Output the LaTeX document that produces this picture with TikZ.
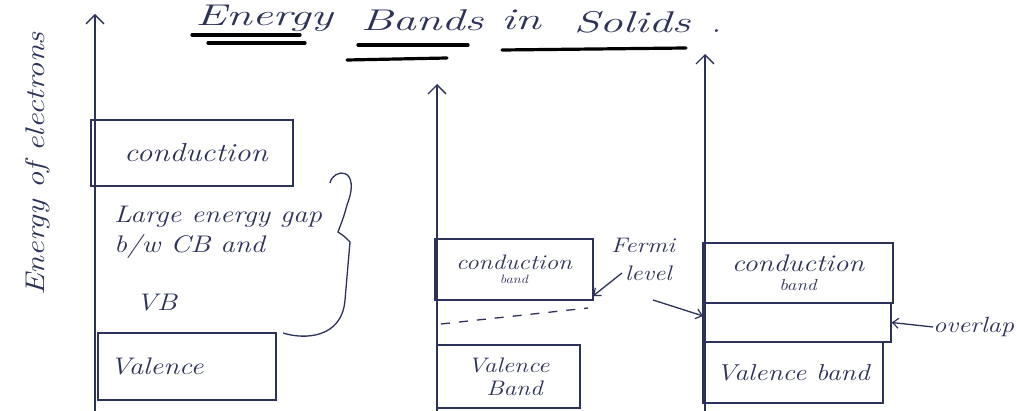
\documentclass[tikz,border=0pt]{standalone}
\usetikzlibrary{arrows.meta}
\definecolor{ink}{RGB}{45,50,90}
\newcommand\hw[1]{\scalebox{1.2}[1]{#1}}
\newcommand\tw[1]{\scalebox{1.55}[1]{#1}}
\newcommand\fs[1]{\fontsize{#1}{#1}\selectfont}
\tikzset{
  x=1pt,y=-1pt,
  ink line/.style={draw=ink,line width=1.3pt},
  axis/.style={ink line,-{Straight Barb[length=9pt,width=18pt,line width=1.3pt]}},
  bandbox/.style={ink line,rectangle,inner sep=0pt,text=ink,font=\itshape,align=center},
  hand/.style={text=ink,font=\itshape,inner sep=0pt},
  titleword/.style={hand,anchor=base,font=\itshape\fs{30}},
  pointer/.style={ink line,-{Straight Barb[length=6pt,width=10pt,line width=1.2pt]}},
  underl/.style={line width=3.2pt,black,line cap=round}
}
\begin{document}
\begin{tikzpicture}
\useasboundingbox[fill=white] (0,0) rectangle (1020,411);
% title
\node[titleword] (t1) at (264,26) {\tw{Energy}};
\node[titleword] (t2) at (422,31) {\tw{Bands}};
\node[titleword] (t3) at (521,30) {\tw{in}};
\node[titleword] (t4) at (632,33) {\tw{Solids}};
\node[titleword] (t5) at (716,33) {.};
\draw[underl] (192,35) -- (300,35);
\draw[underl] (208,43) -- (305,43);
\draw[underl] (358,45) -- (468,45);
\draw[underl] (347,60) -- (447,58);
\draw[underl] (502,50) -- (686,48);
% y label
\node[hand,font=\itshape\fs{27},rotate=90] (ylab) at (38,164) {\hw{Energy of electrons}};
% axes
\coordinate (a1b) at (95,411); \coordinate (a1t) at (95,14);
\coordinate (a2b) at (437,411); \coordinate (a2t) at (437,84);
\coordinate (a3b) at (705,411); \coordinate (a3t) at (705,54);
\draw[axis] (a1b) -- (a1t);
\draw[axis] (a2b) -- (a2t);
\draw[axis] (a3b) -- (a3t);
% insulator
\node[bandbox,minimum width=202pt,minimum height=66pt,font=\itshape\fs{26}] (cb1) at (192,153) {\hspace{8pt}\hw{conduction}};
\node[hand,align=left,anchor=north west,font=\itshape\fontsize{24}{30}\selectfont] (gap) at (114,206) {\hw{Large energy gap}\\\hw{b/w CB and}\\[28pt]\hspace{22pt}\hw{VB}};
\node[bandbox,minimum height=67pt,text width=154pt,inner xsep=12pt,align=left,font=\itshape\fs{24}] (vb1) at (187,366.5) {\hw{Valence}};
\draw[ink line] (330,183) .. controls (333,168) and (362,166) .. (347,205)
  .. controls (344,216) .. (338,232) .. controls (344,236) .. (350,242)
  -- (345,300) .. controls (342,338) and (305,340) .. (283,333);
% semiconductor
\node[bandbox,minimum width=158pt,minimum height=61pt] (cb2) at (514,269.5) {{\fs{21}\hw{conduction}}\\[2pt]{\fs{12}\hw{band}}};
\coordinate (f1) at (441,324); \coordinate (f2) at (588,308);
\draw[ink line,dash pattern=on 9pt off 9pt] (f1) -- (f2);
\node[bandbox,minimum width=143pt,minimum height=63pt,font=\itshape\fontsize{21}{23}\selectfont] (vb2) at (508.5,376.5) {\hw{Valence}\hspace{22pt}\\\hspace{12pt}\hw{Band}};
\node[hand,align=left,font=\itshape\fontsize{21}{28}\selectfont] (fermi) at (643,259) {\hw{Fermi}\\\hspace{14pt}\hw{level}};
\coordinate (fa1) at (622,273); \coordinate (fa2) at (593,296);
\draw[pointer] (fa1) -- (fa2);
\coordinate (fb1) at (653,300); \coordinate (fb2) at (703,316);
\draw[pointer] (fb1) -- (fb2);
% metal
\node[bandbox,minimum width=190pt,minimum height=60pt] (cb3) at (798,273) {{\fs{24}\hw{conduction}}\\[7pt]{\fs{16}\hw{band}}};
\node[bandbox,minimum width=188pt,minimum height=39pt] (ov) at (797,322.5) {};
\node[bandbox,minimum width=180pt,minimum height=61pt,font=\itshape\fs{23}] (vb3) at (793,372.5) {\hw{Valence band}};
\node[hand,anchor=west,font=\itshape\fs{22}] (ovl) at (933,327) {\hw{overlap}};
\draw[pointer] (ovl.west) -- (ov.east);
\end{tikzpicture}
\end{document}
